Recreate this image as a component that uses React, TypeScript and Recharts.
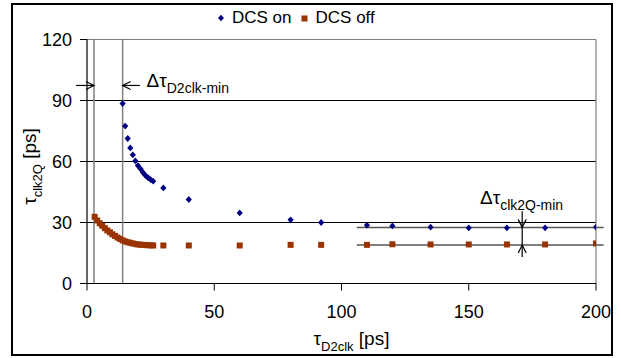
import React from 'react';
import { ScatterChart, Scatter, XAxis, YAxis, ReferenceLine, ReferenceDot, Legend } from 'recharts';

const FONT = "'Liberation Sans', Arial, Helvetica, sans-serif";
const BLUE = '#000080';
const BROWN = '#993300';
const GREY = '#7f7f7f';

// DCS on (blue diamonds)
const dcsOnX = [14, 15, 16, 17, 18, 19, 20, 21, 22, 23, 24, 25, 26, 30, 40, 60, 80, 92, 110, 120, 135, 150, 165, 180, 200];
const dcsOnY = [88.5, 77.4, 71.3, 66.7, 63.3, 60.3, 58.0, 56.4, 54.6, 53.1, 52.0, 51.1, 50.3, 47.0, 41.3, 34.7, 31.3, 30.0, 28.7, 28.3, 27.7, 27.4, 27.4, 27.4, 27.7];

// DCS off (brown squares)
const dcsOffX = [3, 4, 5, 6, 7, 8, 9, 10, 11, 12, 13, 14, 15, 16, 17, 18, 19, 20, 21, 22, 23, 24, 25, 26, 30, 40, 60, 80, 92, 110, 120, 135, 150, 165, 180, 200];
const dcsOffY = [32.8, 31.0, 29.6, 28.4, 27.2, 26.1, 25.2, 24.2, 23.4, 22.6, 21.9, 21.2, 20.7, 20.3, 20.0, 19.7, 19.4, 19.2, 19.1, 19.0, 18.9, 18.8, 18.8, 18.7, 18.7, 18.7, 18.7, 19.0, 19.0, 19.0, 19.3, 19.2, 19.2, 19.2, 19.2, 19.7];

const xTicks = [0, 50, 100, 150, 200];
const yTicks = [0, 30, 60, 90, 120];
const gridY = [30, 60, 90];
const seriesNames = ['DCS on', 'DCS off'];

// annotation values (data units)
const dD2clkLines = [2.75, 14];
const dD2clkArrowY = 97.4;
const clk2QLevels = [27.6, 18.9];
const clk2QSpan = [106, 203];
const clk2QArrowX = 171;

const onData = dcsOnX.map((x, i) => ({ x, y: dcsOnY[i] }));
const offData = dcsOffX.map((x, i) => ({ x, y: dcsOffY[i] }));

const Diamond = (p: any) => {
  const { cx, cy } = p;
  if (cx == null || cy == null) return null;
  return <path d={`M${cx},${cy - 3.4}L${cx + 3.1},${cy}L${cx},${cy + 3.4}L${cx - 3.1},${cy}Z`} fill={BLUE} />;
};
const Square = (p: any) => {
  const { cx, cy } = p;
  if (cx == null || cy == null) return null;
  return <rect x={cx - 3} y={cy - 3} width={6} height={6} fill={BROWN} />;
};

const arrowShape = (head: boolean) => (p: any) => {
  const { x1, y1, x2, y2 } = p;
  const dx = x2 - x1, dy = y2 - y1;
  const len = Math.hypot(dx, dy) || 1;
  const ux = dx / len, uy = dy / len;
  const L = 8, W = 4;
  const bx = x2 - ux * L, by = y2 - uy * L;
  const px = -uy * W, py = ux * W;
  return (
    <g>
      <line x1={x1} y1={y1} x2={x2} y2={y2} stroke="#000" strokeWidth={1.2} />
      {head && (
        <path d={`M${bx + px},${by + py}L${x2},${y2}L${bx - px},${by - py}`} fill="none" stroke="#000" strokeWidth={1.2} />
      )}
    </g>
  );
};

const annoText = (main: string, sub: string) => (p: any) => (
  <text x={p.cx} y={p.cy} fontFamily={FONT} fontSize={19} fill="#000">
    <tspan>{main}</tspan>
    <tspan fontSize={14} dy={6}>{sub}</tspan>
  </text>
);

const XTitle = (props: any) => {
  const vb = props.viewBox || { x: 87, y: 283.5, width: 509, height: 60 };
  return (
    <text x={vb.x + vb.width / 2 + 10} y={vb.y + 61} textAnchor="middle" fontFamily={FONT} fontSize={19} fill="#000" style={{ whiteSpace: 'pre' }}>
      <tspan>τ</tspan>
      <tspan fontSize={13} dy={6}>D2clk</tspan>
      <tspan dy={-6}> [ps]</tspan>
    </text>
  );
};

const YTitle = (props: any) => {
  const vb = props.viewBox || { x: 27, y: 39.5, width: 60, height: 244 };
  const cx = 36;
  const cy = vb.y + vb.height / 2 + 5;
  return (
    <text x={0} y={0} transform={`translate(${cx},${cy}) rotate(-90)`} textAnchor="middle" fontFamily={FONT} fontSize={19} fill="#000" style={{ whiteSpace: 'pre' }}>
      <tspan>τ</tspan>
      <tspan fontSize={13} dy={6}>clk2Q</tspan>
      <tspan dy={-6}> [ps]</tspan>
    </text>
  );
};

const LegendContent = () => (
  <div style={{ display: 'flex', alignItems: 'center', fontFamily: FONT, fontSize: 17, color: '#000', whiteSpace: 'nowrap' }}>
    <svg width={8} height={8} style={{ marginRight: 7 }}>
      <path d="M4,0.8L7,4L4,7.2L1,4Z" fill={BLUE} />
    </svg>
    <span style={{ marginRight: 9 }}>{seriesNames[0]}</span>
    <svg width={7} height={7} style={{ marginRight: 8 }}>
      <rect x={0.5} y={0.5} width={6} height={6} fill={BROWN} />
    </svg>
    <span>{seriesNames[1]}</span>
  </div>
);

export default function App() {
  return (
    <div style={{ position: 'absolute', left: 0, top: 0, width: 621, height: 358, background: '#fff' }}>
      <ScatterChart width={621} height={358} margin={{ top: 39.5, right: 25, bottom: 14.5, left: 27 }}>
        <XAxis
          type="number"
          dataKey="x"
          domain={[0, 200]}
          ticks={xTicks}
          allowDataOverflow
          height={60}
          tickSize={7}
          tickMargin={15}
          axisLine={{ stroke: '#000', strokeWidth: 1.2 }}
          tickLine={{ stroke: '#000' }}
          tick={{ fontSize: 18, fill: '#000', fontFamily: FONT }}
          label={<XTitle />}
        />
        <YAxis
          type="number"
          dataKey="y"
          domain={[0, 120]}
          ticks={yTicks}
          allowDataOverflow
          width={60}
          tickSize={7}
          tickMargin={8}
          axisLine={{ stroke: '#000', strokeWidth: 1.2 }}
          tickLine={{ stroke: '#000' }}
          tick={{ fontSize: 18, fill: '#000', fontFamily: FONT }}
          label={<YTitle />}
        />
        {gridY.map((v) => (
          <ReferenceLine key={`g${v}`} y={v} stroke="#000" strokeWidth={1.2} />
        ))}
        <ReferenceLine y={120} stroke={GREY} strokeWidth={1.2} />
        <ReferenceLine x={200} stroke={GREY} strokeWidth={1.2} />
        {dD2clkLines.map((v) => (
          <ReferenceLine key={`v${v}`} x={v} stroke={GREY} strokeWidth={1.5} />
        ))}
        {clk2QLevels.map((v, i) => (
          <ReferenceLine
            key={`h${i}`}
            segment={[{ x: clk2QSpan[0], y: v }, { x: clk2QSpan[1], y: v }]}
            stroke="#555"
            strokeWidth={1.5}
            ifOverflow="visible"
          />
        ))}
        {/* Δτ D2clk-min arrows */}
        <ReferenceLine
          segment={[{ x: -4.3, y: dD2clkArrowY }, { x: dD2clkLines[0], y: dD2clkArrowY }]}
          ifOverflow="visible"
          shape={arrowShape(true)}
        />
        <ReferenceLine
          segment={[{ x: 20.8, y: dD2clkArrowY }, { x: dD2clkLines[1], y: dD2clkArrowY }]}
          ifOverflow="visible"
          shape={arrowShape(true)}
        />
        {/* Δτ clk2Q-min arrows */}
        <ReferenceLine
          segment={[{ x: clk2QArrowX, y: 35.5 }, { x: clk2QArrowX, y: clk2QLevels[0] }]}
          ifOverflow="visible"
          shape={arrowShape(true)}
        />
        <ReferenceLine
          segment={[{ x: clk2QArrowX, y: clk2QLevels[0] }, { x: clk2QArrowX, y: clk2QLevels[1] }]}
          ifOverflow="visible"
          shape={arrowShape(false)}
        />
        <ReferenceLine
          segment={[{ x: clk2QArrowX, y: 13 }, { x: clk2QArrowX, y: clk2QLevels[1] }]}
          ifOverflow="visible"
          shape={arrowShape(true)}
        />
        <ReferenceDot x={23.4} y={96.4} r={0} ifOverflow="visible" shape={annoText('Δτ', 'D2clk-min')} />
        <ReferenceDot x={154.4} y={38.9} r={0} ifOverflow="visible" shape={annoText('Δτ', 'clk2Q-min')} />
        <Scatter name={seriesNames[0]} data={onData} fill={BLUE} shape={Diamond} isAnimationActive={false} />
        <Scatter name={seriesNames[1]} data={offData} fill={BROWN} shape={Square} isAnimationActive={false} />
        <Legend
          layout="horizontal"
          verticalAlign="middle"
          align="center"
          content={<LegendContent />}
          wrapperStyle={{ top: 8, left: 217, width: 220, height: 22 }}
        />
      </ScatterChart>
      <div
        style={{
          position: 'absolute',
          left: 11,
          top: 3,
          width: 602,
          height: 353,
          boxSizing: 'border-box',
          border: '2px solid #000',
          pointerEvents: 'none',
        }}
      />
    </div>
  );
}
